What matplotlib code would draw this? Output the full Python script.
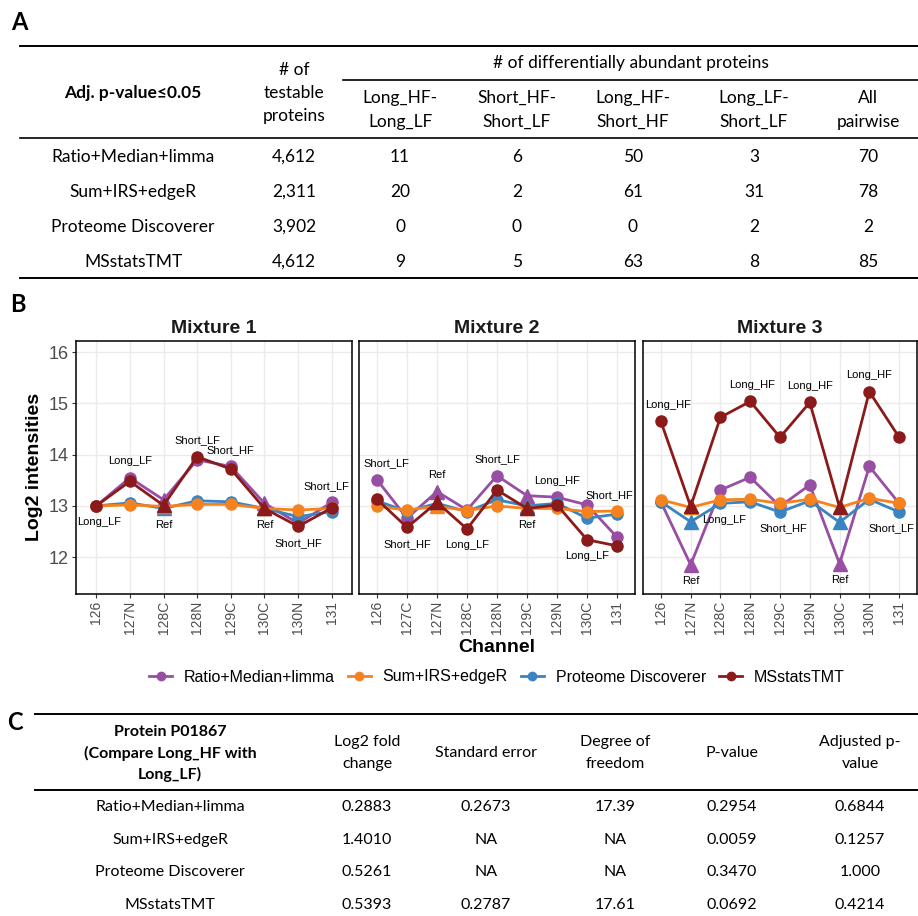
import matplotlib
matplotlib.use("Agg")
import matplotlib.pyplot as plt
from matplotlib.lines import Line2D

W, H = 918, 916

methods = ["Ratio+Median+limma", "Sum+IRS+edgeR", "Proteome Discoverer", "MSstatsTMT"]
method_colors = ["#984EA3", "#F5821F", "#3A84C1", "#8B1A1A"]

# ---- table A: differentially abundant proteins ----
testable = ["4,612", "2,311", "3,902", "4,612"]
comparisons = ["Long_HF-\nLong_LF", "Short_HF-\nShort_LF", "Long_HF-\nShort_HF",
               "Long_LF-\nShort_LF", "All\npairwise"]
n_long_hf_vs_long_lf = [11, 20, 0, 9]
n_short_hf_vs_short_lf = [6, 2, 0, 5]
n_long_hf_vs_short_hf = [50, 61, 0, 63]
n_long_lf_vs_short_lf = [3, 31, 2, 8]
n_all_pairwise = [70, 78, 2, 85]

# ---- panel B: protein P01867 log2 intensities per channel ----
mixtures = ["Mixture 1", "Mixture 2", "Mixture 3"]
channels_m1 = ["126", "127N", "128C", "128N", "129C", "130C", "130N", "131"]
channels_m2 = ["126", "127C", "127N", "128C", "128N", "129C", "129N", "130C", "131"]
channels_m3 = ["126", "127N", "128C", "128N", "129C", "129N", "130C", "130N", "131"]

conditions_m1 = ["Long_LF", "Long_LF", "Ref", "Short_LF", "Short_HF", "Ref", "Short_HF", "Short_LF"]
conditions_m2 = ["Short_LF", "Short_HF", "Ref", "Long_LF", "Short_LF", "Ref", "Long_HF", "Long_LF", "Short_HF"]
conditions_m3 = ["Long_HF", "Ref", "Long_LF", "Long_HF", "Short_HF", "Long_HF", "Ref", "Long_HF", "Short_LF"]

ratio_m1 = [13.00, 13.55, 13.12, 13.90, 13.77, 13.05, 12.66, 13.07]
sum_m1 = [13.00, 13.02, 12.99, 13.03, 13.03, 12.95, 12.92, 12.95]
pd_m1 = [13.00, 13.06, 12.95, 13.10, 13.08, 12.95, 12.79, 12.89]
msstats_m1 = [13.00, 13.48, 13.01, 13.96, 13.72, 12.95, 12.60, 12.96]

ratio_m2 = [13.51, 12.76, 13.28, 12.92, 13.59, 13.20, 13.17, 13.02, 12.39]
sum_m2 = [12.99, 12.92, 12.99, 12.91, 13.00, 12.95, 12.95, 12.89, 12.90]
pd_m2 = [13.10, 12.89, 13.05, 12.89, 13.12, 13.00, 13.05, 12.76, 12.84]
msstats_m2 = [13.13, 12.58, 13.07, 12.55, 13.31, 12.95, 13.02, 12.34, 12.22]

ratio_m3 = [13.08, 11.85, 13.31, 13.56, 12.99, 13.41, 11.87, 13.77, 13.05]
sum_m3 = [13.12, 12.97, 13.12, 13.13, 13.05, 13.13, 12.97, 13.15, 13.05]
pd_m3 = [13.08, 12.69, 13.05, 13.08, 12.88, 13.10, 12.68, 13.13, 12.88]
msstats_m3 = [14.65, 12.99, 14.73, 15.04, 14.34, 15.02, 12.97, 15.23, 14.34]

# label placement: +1 above the highest point, -1 below the lowest
label_side_m1 = [-1, 1, -1, 1, 1, -1, -1, 1]
label_side_m2 = [1, -1, 1, -1, 1, -1, 1, -1, 1]
label_side_m3 = [1, -1, -1, 1, -1, 1, -1, 1, -1]
label_nudge_m1 = [0.1, 0, 0, 0, 0, 0, 0, -0.17]
label_nudge_m2 = [0.33, 0, 0, 0, 0, 0, 0, 0, -0.25]
label_nudge_m3 = [0.25, 0, 0.12, 0.05, 0.1, 0, 0, 0, -0.25]

# ---- table C: P01867, Long_HF vs Long_LF ----
fold_change = ["0.2883", "1.4010", "0.5261", "0.5393"]
std_error = ["0.2673", "NA", "NA", "0.2787"]
deg_freedom = ["17.39", "NA", "NA", "17.61"]
p_value = ["0.2954", "0.0059", "0.3470", "0.0692"]
adj_p_value = ["0.6844", "0.1257", "1.000", "0.4214"]
c_headers = ["Log2 fold\nchange", "Standard error", "Degree of\nfreedom", "P-value", "Adjusted p-\nvalue"]

TABLE_FONT = ["Lato", "DejaVu Sans"]
PLOT_FONT = ["Liberation Sans", "DejaVu Sans"]

fig = plt.figure(figsize=(W / 100, H / 100), dpi=100)


def fx(x):
    return x / W


def fy(y):
    return 1 - y / H


def ptext(x, y, s, size=12.5, weight="normal", linegap=23, **kw):
    lines = s.split("\n")
    y0 = y - linegap * (len(lines) - 1) / 2
    for i, line in enumerate(lines):
        fig.text(fx(x), fy(y0 + i * linegap), line, ha="center", va="center",
                 fontsize=size, fontweight=weight, family=TABLE_FONT, **kw)


def hline(x0, x1, y, lw=1.4):
    fig.add_artist(Line2D([fx(x0), fx(x1)], [fy(y), fy(y)], color="black",
                          lw=lw, transform=fig.transFigure))


# ===== A =====
fig.text(fx(19), fy(23), "A", ha="center", va="center", fontsize=17,
         fontweight="bold", family=TABLE_FONT)
hline(20, 918, 46)
hline(343, 918, 80, lw=1.2)
hline(20, 918, 138, lw=1.2)
hline(20, 918, 278)
ptext(133, 93, "Adj. p-value≤0.05", weight="bold")
ptext(294, 93, "# of\ntestable\nproteins")
ptext(631, 63, "# of differentially abundant proteins")
a_cols = [400, 517, 633, 754, 868]
for cx, head in zip(a_cols, comparisons):
    ptext(cx, 110, head, linegap=24)
a_rows = [157, 192, 227, 262]
a_counts = [n_long_hf_vs_long_lf, n_short_hf_vs_short_lf, n_long_hf_vs_short_hf,
            n_long_lf_vs_short_lf, n_all_pairwise]
for i, ry in enumerate(a_rows):
    ptext(133, ry, methods[i])
    ptext(294, ry, testable[i])
    for cx, col in zip(a_cols, a_counts):
        ptext(cx, ry, str(col[i]))

# ===== B =====
fig.text(fx(18), fy(304), "B", ha="center", va="center", fontsize=17,
         fontweight="bold", family=TABLE_FONT)

panel_px = [(76, 352), (359, 635), (643, 917)]
top_px, bot_px = 341, 594
all_channels = [channels_m1, channels_m2, channels_m3]
all_conditions = [conditions_m1, conditions_m2, conditions_m3]
all_values = [
    [ratio_m1, sum_m1, pd_m1, msstats_m1],
    [ratio_m2, sum_m2, pd_m2, msstats_m2],
    [ratio_m3, sum_m3, pd_m3, msstats_m3],
]
all_sides = [label_side_m1, label_side_m2, label_side_m3]
all_nudges = [label_nudge_m1, label_nudge_m2, label_nudge_m3]
draw_order = [0, 2, 1, 3]  # purple, blue, orange, dark red on top

for k, (x0, x1) in enumerate(panel_px):
    ax = fig.add_axes([fx(x0), fy(bot_px), (x1 - x0) / W, (bot_px - top_px) / H])
    chans = all_channels[k]
    conds = all_conditions[k]
    xs = list(range(len(chans)))
    for z, m in enumerate(draw_order):
        vals = all_values[k][m]
        col = method_colors[m]
        ax.plot(xs, vals, "-", color=col, lw=2.0, zorder=3 + z)
        cx = [x for x, c in zip(xs, conds) if c != "Ref"]
        cy = [v for v, c in zip(vals, conds) if c != "Ref"]
        tx = [x for x, c in zip(xs, conds) if c == "Ref"]
        ty = [v for v, c in zip(vals, conds) if c == "Ref"]
        ax.plot(cx, cy, "o", color=col, ms=8, mec=col, zorder=3 + z)
        ax.plot(tx, ty, "^", color=col, ms=10.5, mec=col, zorder=3 + z)
    for i, cond in enumerate(conds):
        col_vals = [all_values[k][m][i] for m in range(4)]
        if all_sides[k][i] > 0:
            ly = max(col_vals) + 0.32
        else:
            ly = min(col_vals) - 0.32
        ax.text(i + all_nudges[k][i], ly, cond, ha="center", va="center",
                fontsize=8, family=PLOT_FONT, color="black", zorder=10)
    ax.set_xlim(-0.6, len(chans) - 0.4)
    ax.set_ylim(11.28, 16.22)
    ax.set_xticks(xs)
    ax.set_xticklabels(chans, rotation=90, fontsize=10, color="#4D4D4D",
                       family=PLOT_FONT)
    ax.set_yticks([12, 13, 14, 15, 16])
    if k == 0:
        ax.set_yticklabels(["12", "13", "14", "15", "16"], fontsize=13,
                           color="#4D4D4D", family=PLOT_FONT)
        ax.tick_params(axis="y", length=3, color="#333333", width=0.8, pad=2)
    else:
        ax.set_yticklabels([])
        ax.tick_params(axis="y", length=0)
    ax.tick_params(axis="x", length=3, color="#333333", width=0.8, pad=2)
    ax.grid(True, color="#EBEBEB", lw=1.0, zorder=0)
    ax.set_axisbelow(True)
    for sp in ax.spines.values():
        sp.set_color("black")
        sp.set_linewidth(1.1)
    ax.set_title(mixtures[k], fontsize=14, fontweight="bold", family=PLOT_FONT,
                 pad=6, color="#1A1A1A")

fig.text(fx(35), fy(467), "Log2 intensities", rotation=90, ha="center",
         va="center", fontsize=14, fontweight="bold", family=PLOT_FONT)
fig.text(fx(497), fy(648), "Channel", ha="center", va="center", fontsize=14,
         fontweight="bold", family=PLOT_FONT)

handles = [Line2D([0], [0], color=c, lw=2.0, marker="o", ms=6) for c in method_colors]
fig.legend(handles, methods, loc="center", bbox_to_anchor=(fx(497), fy(677)),
           ncol=4, frameon=False, prop={"family": PLOT_FONT, "size": 11.5},
           handlelength=1.4, columnspacing=0.85, handletextpad=0.75)

# ===== C =====
fig.text(fx(15), fy(722), "C", ha="center", va="center", fontsize=17,
         fontweight="bold", family=TABLE_FONT)
hline(35, 918, 714)
hline(35, 918, 790)
ptext(170, 753, "Protein P01867\n(Compare Long_HF with\nLong_LF)", size=11.5,
      weight="bold", linegap=21.5)
c_cols = [367, 486, 615, 732, 860]
for cx, head in zip(c_cols, c_headers):
    ptext(cx, 753, head, size=11.5, linegap=22)
c_rows = [807, 840, 872, 905]
c_data = [fold_change, std_error, deg_freedom, p_value, adj_p_value]
for i, ry in enumerate(c_rows):
    ptext(170, ry, methods[i], size=11.5)
    for cx, col in zip(c_cols, c_data):
        ptext(cx, ry, col[i], size=11.5)

fig.savefig("out.png", dpi=100)
